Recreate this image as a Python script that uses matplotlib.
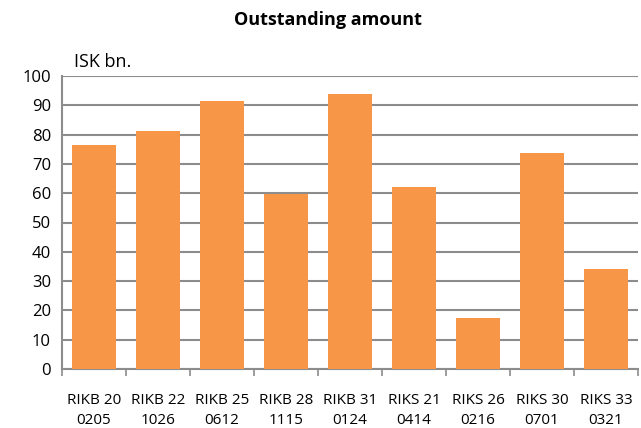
import matplotlib
matplotlib.use('Agg')
import numpy as np
import matplotlib.pyplot as plt

# Outstanding amount per bond series (ISK bn.)
bonds = ['RIKB 20\n0205', 'RIKB 22\n1026', 'RIKB 25\n0612', 'RIKB 28\n1115',
         'RIKB 31\n0124', 'RIKS 21\n0414', 'RIKS 26\n0216', 'RIKS 30\n0701',
         'RIKS 33\n0321']
amounts = [76.4, 81.2, 91.4, 59.6, 94.0, 62.1, 17.3, 73.7, 34.2]
yticks = list(range(0, 101, 10))

plt.rcParams['font.family'] = ['Open Sans', 'DejaVu Sans']

fig = plt.figure(figsize=(6.41, 4.28), dpi=100)
ax = fig.add_axes([62 / 641, 1 - 369 / 428, 576 / 641, 293 / 428])

x = np.arange(len(bonds))
ax.bar(x, amounts, width=0.69, color='#F79646', zorder=3)

ax.set_xlim(-0.5, len(bonds) - 0.5)
ax.set_ylim(0, 100)
ax.set_yticks(yticks)
ax.set_yticklabels([str(v) for v in yticks], fontsize=12)
ax.grid(axis='y', color='#8C8C8C', linewidth=1.5, zorder=0)

# category labels centered, tick marks at boundaries
ax.set_xticks(x)
ax.set_xticklabels(bonds, fontsize=11, linespacing=1.45)
ax.tick_params(axis='x', length=0, pad=17)
ax.set_xticks(np.arange(-0.5, len(bonds)), minor=True)
ax.tick_params(axis='x', which='minor', length=5, width=1.2, color='#8C8C8C')
ax.tick_params(axis='y', length=0, pad=8)

for side in ['top', 'right']:
    ax.spines[side].set_visible(False)
for side in ['left', 'bottom']:
    ax.spines[side].set_color('#8C8C8C')
    ax.spines[side].set_linewidth(1.5)

fig.text(0.512, 1 - 20 / 428, 'Outstanding amount', ha='center', va='center',
         fontsize=13, fontweight='bold')
fig.text(74 / 641, 1 - 62 / 428, 'ISK bn.', ha='left', va='center', fontsize=13)

fig.savefig('out.png', dpi=100)
